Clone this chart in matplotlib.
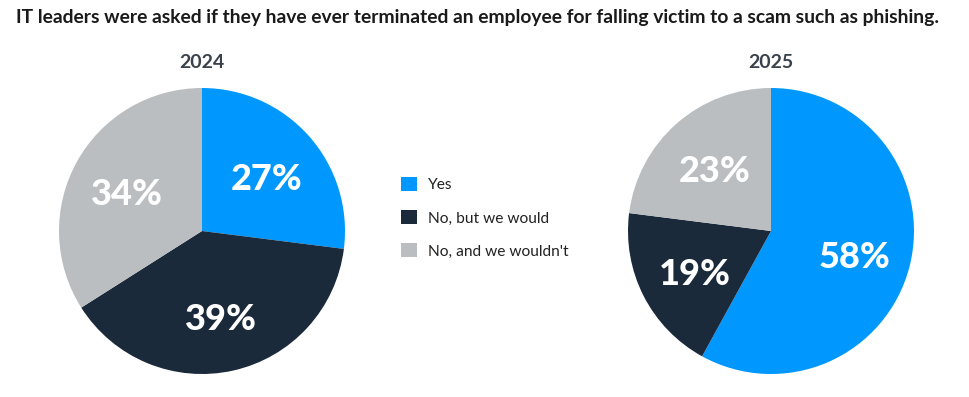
import matplotlib.pyplot as plt
from matplotlib.patches import Patch

# Данные с картинки
categories = ["Yes", "No, but we would", "No, and we wouldn't"]
years = ["2024", "2025"]
values_2024 = [27, 39, 34]
values_2025 = [58, 19, 23]
colors = ["#0098FF", "#1B2A3A", "#BBBEC1"]

plt.rcParams['font.family'] = ['Lato', 'DejaVu Sans']

W, H = 970, 397
fig = plt.figure(figsize=(W / 100, H / 100), dpi=100)

fig.text(478 / W, 1 - 18 / H, "IT leaders were asked if they have ever terminated an employee "
         "for falling victim to a scam such as phishing.",
         ha="center", va="center", fontsize=13.9, fontweight="bold", color="#1a1a1a")


def draw_pie(cx, cy, r, values, year):
    ax = fig.add_axes([(cx - r) / W, 1 - (cy + r) / H, 2 * r / W, 2 * r / H])
    wedges, _, autotexts = ax.pie(values, colors=colors, startangle=90, counterclock=False,
                                  autopct="%d%%", pctdistance=0.6,
                                  textprops=dict(color="white", fontsize=26, fontweight="black"))
    for t in autotexts:
        x, y = t.get_position()
        t.set_position((x, y - 0.035))
    ax.set_xlim(-1, 1)
    ax.set_ylim(-1, 1)
    ax.set_aspect("equal")
    fig.text(cx / W, 1 - 62 / H, year, ha="center", va="center",
             fontsize=14, fontweight="bold", color="#3A424B")
    return wedges


draw_pie(202, 231, 143, values_2024, years[0])
draw_pie(771, 231, 143, values_2025, years[1])

handles = [Patch(facecolor=c, edgecolor="none") for c in colors]
fig.legend(handles, categories, loc="upper left", bbox_to_anchor=(387 / W, 1 - 163 / H),
           frameon=False, fontsize=11.2, handlelength=1.0, handleheight=1.0,
           handletextpad=0.75, labelspacing=1.15, labelcolor="#222222")

plt.savefig("out.png", dpi=100)
